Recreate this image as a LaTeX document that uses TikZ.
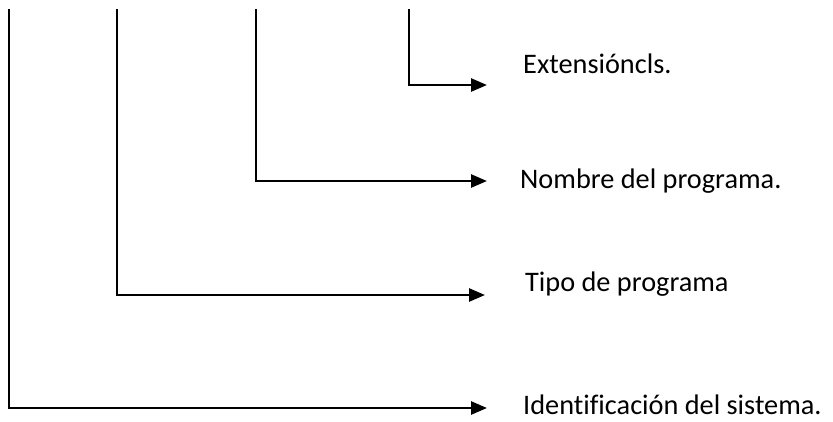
\documentclass[tikz,border=0pt]{standalone}
\usepackage{fontspec}
\setmainfont[Ligatures=NoCommon]{Carlito}
\usetikzlibrary{arrows.meta}
\begin{document}
\begin{tikzpicture}[x=1pt, y=-1pt,
        flecha/.style={line width=2.6pt, -{Triangle[length=16pt,width=13pt]}},
        etiqueta/.style={anchor=base west, inner sep=0pt, font=\fontsize{28.3}{32}\selectfont}]
        \useasboundingbox (0,0) rectangle (833,421);

        % Extension
        \coordinate (extA) at (409,9);
        \coordinate (extB) at (487,85);
        \node[etiqueta] (ext) at (523,73) {Extensióncls.};
        \draw[flecha] (extA) |- (extB);

        % Nombre
        \coordinate (nomA) at (256,9);
        \coordinate (nomB) at (487,181);
        \node[etiqueta] (nom) at (520,188) {Nombre del programa.};
        \draw[flecha] (nomA) |- (nomB);

        % Tipo
        \coordinate (tipA) at (117,9);
        \coordinate (tipB) at (485,295);
        \node[etiqueta] (tip) at (525,291) {Tipo de programa};
        \draw[flecha] (tipA) |- (tipB);

        % Identificacion
        \coordinate (idA) at (9,9);
        \coordinate (idB) at (487,408);
        \node[etiqueta] (id) at (523,414) {Identificación del sistema.};
        \draw[flecha] (idA) |- (idB);
    \end{tikzpicture}
\end{document}
